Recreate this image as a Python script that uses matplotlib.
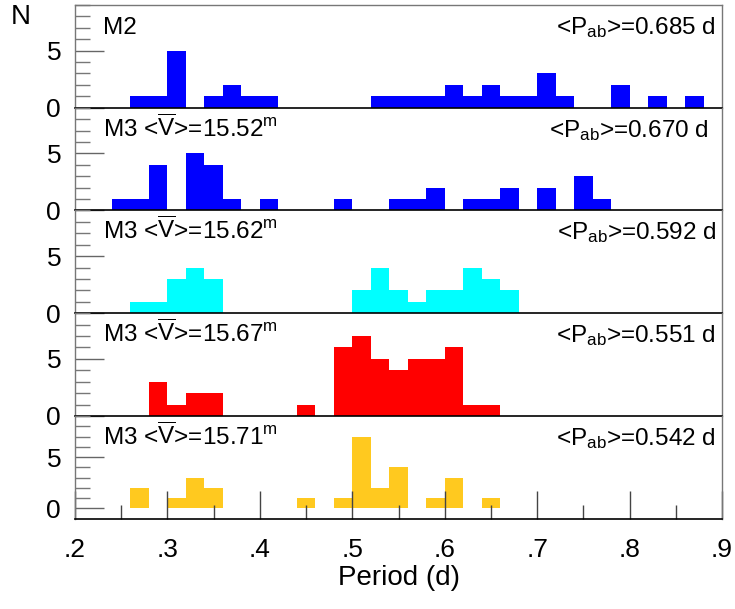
import matplotlib
matplotlib.use("Agg")
import matplotlib.pyplot as plt
from matplotlib.ticker import FixedLocator, MultipleLocator

plt.rcParams['font.family'] = ['Liberation Sans', 'DejaVu Sans']
plt.rcParams['mathtext.fontset'] = 'custom'
plt.rcParams['mathtext.rm'] = 'Liberation Sans'
plt.rcParams['mathtext.it'] = 'Liberation Sans:italic'
plt.rcParams['mathtext.bf'] = 'Liberation Sans:bold'

# bin edges (period, d), width 0.02
bin_edges = [0.20 + 0.02 * i for i in range(36)]

counts_m2 = [0, 0, 0, 1, 1, 5, 0, 1, 2, 1, 1, 0, 0, 0, 0, 0, 1, 1, 1, 1,
             2, 1, 2, 1, 1, 3, 1, 0, 0, 2, 0, 1, 0, 1, 0]
counts_m3_1552 = [0, 0, 1, 1, 4, 0, 5, 4, 1, 0, 1, 0, 0, 0, 1, 0, 0, 1, 1, 2,
                  0, 1, 1, 2, 0, 2, 0, 3, 1, 0, 0, 0, 0, 0, 0]
counts_m3_1562 = [0, 0, 0, 1, 1, 3, 4, 3, 0, 0, 0, 0, 0, 0, 0, 2, 4, 2, 1, 2,
                  2, 4, 3, 2, 0, 0, 0, 0, 0, 0, 0, 0, 0, 0, 0]
counts_m3_1567 = [0, 0, 0, 0, 3, 1, 2, 2, 0, 0, 0, 0, 1, 0, 6, 7, 5, 4, 5, 5,
                  6, 1, 1, 0, 0, 0, 0, 0, 0, 0, 0, 0, 0, 0, 0]
counts_m3_1571 = [0, 0, 0, 2, 0, 1, 3, 2, 0, 0, 0, 0, 1, 0, 1, 7, 2, 4, 0, 1,
                  3, 0, 1, 0, 0, 0, 0, 0, 0, 0, 0, 0, 0, 0, 0]

left_labels = ['M2',
               r'M3 <$\overline{\mathrm{V}}$>=15.52$^{\mathrm{m}}$',
               r'M3 <$\overline{\mathrm{V}}$>=15.62$^{\mathrm{m}}$',
               r'M3 <$\overline{\mathrm{V}}$>=15.67$^{\mathrm{m}}$',
               r'M3 <$\overline{\mathrm{V}}$>=15.71$^{\mathrm{m}}$']
mean_periods = ['0.685', '0.670', '0.592', '0.551', '0.542']
colors = ['#0000ff', '#0000ff', '#00ffff', '#ff0000', '#ffc91f']
all_counts = [counts_m2, counts_m3_1552, counts_m3_1562, counts_m3_1567, counts_m3_1571]

xtick_vals = [0.2, 0.3, 0.4, 0.5, 0.6, 0.7, 0.8, 0.9]
xtick_labels = ['.2', '.3', '.4', '.5', '.6', '.7', '.8', '.9']

W, H = 735, 609
fig = plt.figure(figsize=(W / 100, H / 100), dpi=100)

left = 75 / W
right = 722 / W
top = 1 - 5 / H
bottom = 1 - 518.7 / H
ph = (top - bottom) / 5

frame_gray = '#777777'
right_x_px = [716, 709, 716, 716, 716]

for i in range(5):
    y0 = top - (i + 1) * ph
    ax = fig.add_axes([left, y0, right - left, ph])
    ax.stairs(all_counts[i], bin_edges, fill=True, color=colors[i],
              linewidth=0, baseline=0)
    ax.set_xlim(0.2, 0.9)
    if i < 4:
        ax.set_ylim(0, 9)
    else:
        ax.set_ylim(-1, 9)
    ax.yaxis.set_major_locator(FixedLocator([0, 5]))
    ax.yaxis.set_minor_locator(FixedLocator([1, 2, 3, 4, 6, 7, 8, 9]))
    ax.tick_params(axis='y', which='major', direction='in', length=21, width=1,
                   color='#666666', labelsize=19, pad=10)
    ax.tick_params(axis='y', which='minor', direction='in', length=11, width=1,
                   color='#777777')
    for s in ['left', 'right', 'top']:
        ax.spines[s].set_color(frame_gray)
        ax.spines[s].set_linewidth(1)
    ax.spines['bottom'].set_color('black')
    ax.spines['bottom'].set_linewidth(1.2)
    if i > 0:
        ax.spines['top'].set_visible(False)
    if i < 4:
        ax.set_xticks([])
    else:
        ax.xaxis.set_major_locator(FixedLocator(xtick_vals))
        ax.set_xticklabels(xtick_labels)
        ax.xaxis.set_minor_locator(MultipleLocator(0.05))
        ax.tick_params(axis='x', which='major', direction='in', length=20, width=1,
                       color='#444444', labelsize=19, pad=14)
        ax.tick_params(axis='x', which='minor', direction='in', length=10, width=1,
                       color='#444444')
    ax.patch.set_alpha(0)
    # panel texts
    ybase_px = 5 + i * (513.7 / 5) + 29
    fig.text(103 / W, 1 - ybase_px / H, left_labels[i], fontsize=17.5,
             ha='left', va='baseline')
    fig.text(right_x_px[i] / W, 1 - ybase_px / H,
             r'<P$_{\mathrm{ab}}$>=' + mean_periods[i] + ' d', fontsize=17.5,
             ha='right', va='baseline')

fig.text(21 / W, 1 - 17 / H, 'N', fontsize=20, ha='center', va='center')
fig.text(399 / W, 1 - 578 / H, 'Period (d)', fontsize=20, ha='center', va='center')

fig.savefig('out.png', dpi=100)
